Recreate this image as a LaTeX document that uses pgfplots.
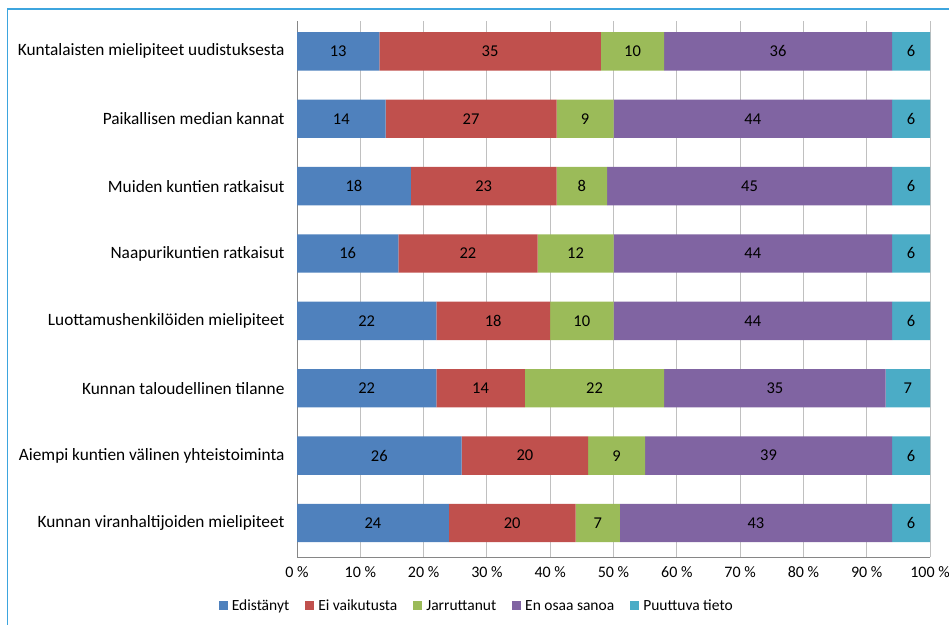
\documentclass[border=0pt]{standalone}
\usepackage{fontspec}
\setmainfont{Carlito}
\usepackage{pgfplots}
\usepackage{pgfplotstable}
\pgfplotsset{compat=1.18}

\definecolor{cEd}{HTML}{4F81BD}
\definecolor{cEi}{HTML}{C0504D}
\definecolor{cJa}{HTML}{9BBB59}
\definecolor{cEn}{HTML}{8064A2}
\definecolor{cPu}{HTML}{4BACC6}
\definecolor{gridgray}{HTML}{C0C0C0}
\definecolor{axisgray}{HTML}{868686}
\definecolor{frameblue}{HTML}{3DA5DE}

% shares per factor (%), top row = top bar
\pgfplotstableread{
y  ed ei ja en pu
7  13 35 10 36 6
6  14 27  9 44 6
5  18 23  8 45 6
4  16 22 12 44 6
3  22 18 10 44 6
2  22 14 22 35 7
1  26 20  9 39 6
0  24 20  7 43 6
}\influence

\begin{document}
\begin{tikzpicture}[x=1pt,y=1pt]
\path[use as bounding box] (0,0) rectangle (949,624);
\draw[frameblue, line width=1.8pt] (7.5,-5) -- (7.5,615) -- (960,615);
\pgfplotsset{
  base/.style={
    at={(297pt,67pt)}, anchor=south west, scale only axis,
    width=633pt, height=536pt,
    xmin=0, xmax=100, ymin=-0.504, ymax=7.45,
    /pgf/number format/assume math mode=true,
  },
  legsq/.style={legend image code/.code={\fill[##1] (0pt,-4.5pt) rectangle (9pt,4.5pt);}},
}
\begin{axis}[base,
  xbar stacked, bar width=0.57,
  axis x line*=bottom, axis y line*=left,
  axis line style={axisgray, line width=1pt},
  major tick length=0pt,
  xtick={0,10,...,100},
  xticklabel={\pgfmathprintnumber{\tick}~\%},
  xmajorgrids, grid style={gridgray, line width=0.9pt},
  ytick={0,...,7},
  yticklabels={Kunnan viranhaltijoiden mielipiteet,
    Aiempi kuntien välinen yhteistoiminta,
    Kunnan taloudellinen tilanne,
    Luottamushenkilöiden mielipiteet,
    Naapurikuntien ratkaisut,
    Muiden kuntien ratkaisut,
    Paikallisen median kannat,
    Kuntalaisten mielipiteet uudistuksesta},
  yticklabel style={font=\fontsize{17.3}{20}\selectfont, xshift=-9pt},
  xticklabel style={font=\fontsize{16}{19}\selectfont, yshift=-6pt},
  legend columns=-1,
  legend style={draw=none, at={(0.284,-0.0914)}, anchor=center,
    font=\fontsize{15.5}{18}\selectfont,
    /tikz/every odd column/.append style={column sep=2pt},
    /tikz/every even column/.append style={column sep=14pt}},
]
\addplot[fill=cEd, draw=none, legsq] table[x=ed, y=y] {\influence};
\addlegendentry{Edistänyt}
\addplot[fill=cEi, draw=none, legsq] table[x=ei, y=y] {\influence};
\addlegendentry{Ei vaikutusta}
\addplot[fill=cJa, draw=none, legsq] table[x=ja, y=y] {\influence};
\addlegendentry{Jarruttanut}
\addplot[fill=cEn, draw=none, legsq] table[x=en, y=y] {\influence};
\addlegendentry{En osaa sanoa}
\addplot[fill=cPu, draw=none, legsq] table[x=pu, y=y] {\influence};
\addlegendentry{Puuttuva tieto}
\end{axis}

% value labels centred in each segment
\begin{axis}[base, axis lines=none, clip=false,
  nodes near coords,
  point meta=explicit,
  every node near coord/.append style={anchor=center, text=black,
    font=\fontsize{16.5}{19}\selectfont},
]
\addplot[draw=none] table[x expr=\thisrow{ed}/2, y=y, meta=ed] {\influence};
\addplot[draw=none] table[x expr=\thisrow{ed}+\thisrow{ei}/2, y=y, meta=ei] {\influence};
\addplot[draw=none] table[x expr=\thisrow{ed}+\thisrow{ei}+\thisrow{ja}/2, y=y, meta=ja] {\influence};
\addplot[draw=none] table[x expr=\thisrow{ed}+\thisrow{ei}+\thisrow{ja}+\thisrow{en}/2, y=y, meta=en] {\influence};
\addplot[draw=none] table[x expr=\thisrow{ed}+\thisrow{ei}+\thisrow{ja}+\thisrow{en}+\thisrow{pu}/2, y=y, meta=pu] {\influence};
\end{axis}
\end{tikzpicture}
\end{document}
